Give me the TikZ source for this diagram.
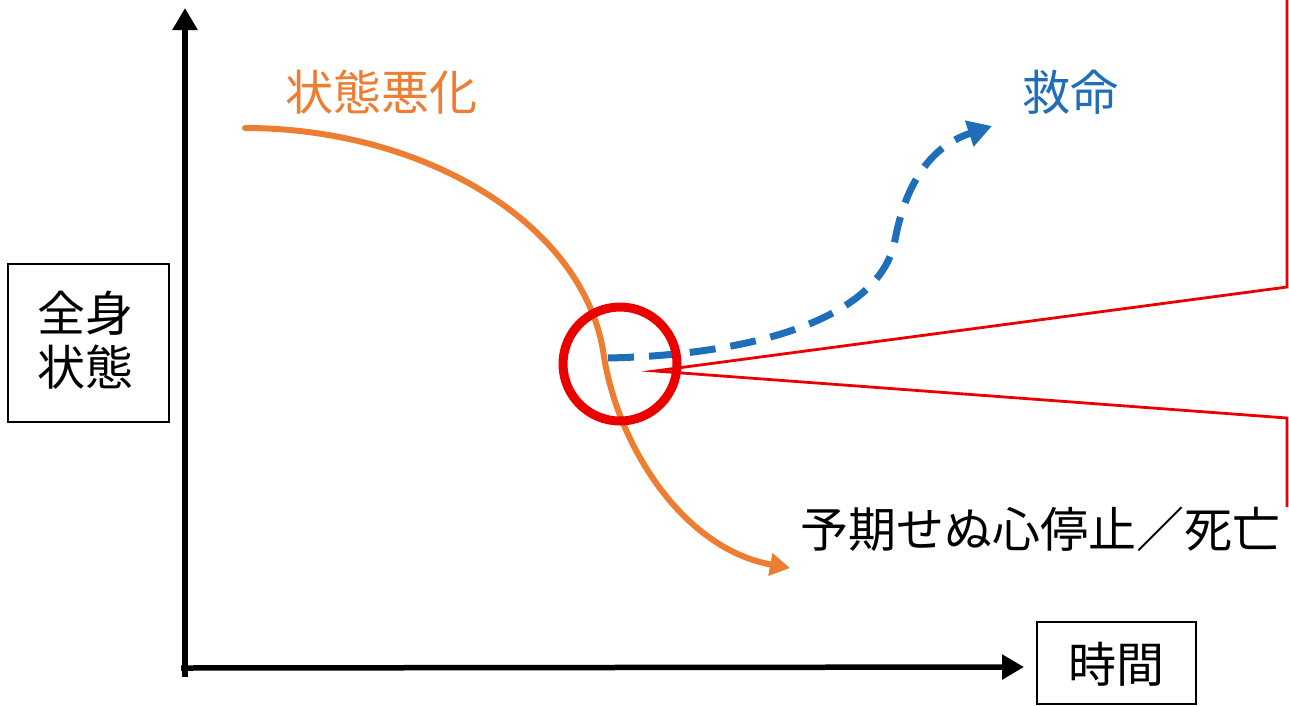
\documentclass[tikz,border=0pt]{standalone}
\usepackage{fontspec}
\setmainfont{Noto Sans CJK JP}
\usetikzlibrary{arrows.meta}
\definecolor{cOrange}{RGB}{237,125,49}
\definecolor{cBlue}{RGB}{30,110,185}
\definecolor{cRed}{RGB}{235,0,0}
\tikzset{
  axis/.style={line width=5.5pt,-{Triangle[length=22pt,width=24pt]}},
  lbl/.style={font=\fontsize{48}{60}\selectfont, inner sep=0pt},
  boxed/.style={draw=black, line width=1.5pt, inner sep=0pt},
  worse/.style={cOrange, line width=6pt, -{Triangle[length=20pt,width=22pt]}},
  rescue/.style={cBlue, line width=7pt, dash pattern=on 26pt off 15pt, -{Triangle[length=24pt,width=26pt]}},
  callout/.style={cRed, line width=2.8pt, line join=miter},
}
\begin{document}
\begin{tikzpicture}[x=1pt,y=-1pt]
\useasboundingbox (0,0) rectangle (1289,705);
% axes
\coordinate (Ytop) at (185,8);
\coordinate (Xend) at (1024,667);
\draw[axis] (185,677) -- (Ytop);
\draw[axis] (181,668) -- (Xend);
% axis label boxes
\draw[boxed] (8,264) rectangle (169,422);
\node[lbl, align=center] (ylab) at (85,340) {全身\\[-6pt]状態};
\draw[boxed] (1037,622) rectangle (1196,704);
\node[lbl] (xlab) at (1116,664) {時間};
% orange curve
\coordinate (o1) at (245,128);
\coordinate (o2) at (603,350);
\coordinate (o3) at (790,568);
\draw[worse, line cap=round] (o1) .. controls (420,128) and (580,220) .. (o2)
  .. controls (615,440) and (680,548) .. (o3);
% blue dashed
\coordinate (b1) at (608,358);
\coordinate (b2) at (895,240);
\coordinate (b3) at (992,126);
\draw[rescue] (b1) .. controls (750,355) and (880,320) .. (b2)
  .. controls (910,160) and (950,140) .. (b3);
% red circle
\node[draw=cRed, line width=9pt, circle, minimum size=114pt, inner sep=0pt] (ring) at (620,364) {};
% callout
\coordinate (tip) at (655,371);
\draw[callout] (1287,-2) -- (1287,287) -- (tip) -- (1287,418) -- (1287,507);
% labels
\node[lbl, text=cOrange] (worselab) at (381,92) {状態悪化};
\node[lbl, text=cBlue] (rescuelab) at (1070,92) {救命};
\node[lbl] (deathlab) at (1040,529) {予期せぬ心停止／死亡};
\end{tikzpicture}
\end{document}
